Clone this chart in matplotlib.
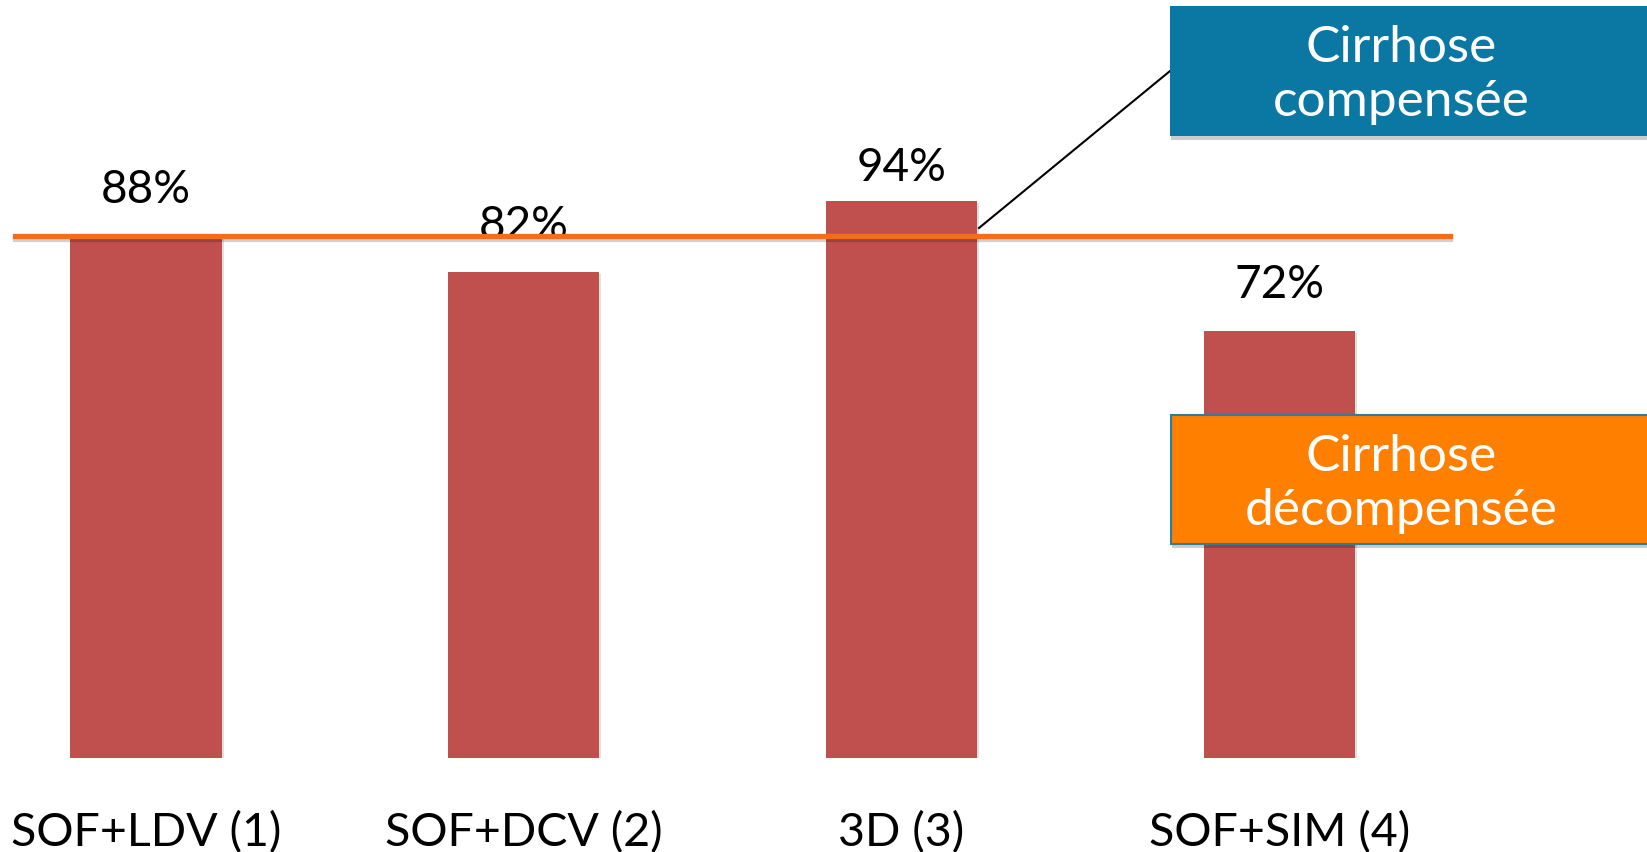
import matplotlib
matplotlib.use("Agg")
import matplotlib.pyplot as plt
import matplotlib.patheffects as pe
from matplotlib.patches import Rectangle

# Données
categories = ["SOF+LDV (1)", "SOF+DCV (2)", "3D (3)", "SOF+SIM (4)"]
values = [88, 82, 94, 72]
value_labels = ["88%", "82%", "94%", "72%"]
threshold = 88

W, H = 1647, 852
fig = plt.figure(figsize=(W / 100, H / 100), dpi=100)
fig.patch.set_facecolor("white")

# axe placé pour que 0 % tombe à y=758 px et 100 % à y=165 px
bottom_px, top_px = 758, 165
ax = fig.add_axes([0, (H - bottom_px) / H, 1, (bottom_px - top_px) / H])
step = 377.8
x0 = -146 / step
ax.set_xlim(x0, x0 + W / step)
ax.set_ylim(0, 100)
ax.axis("off")

shadow = [pe.SimplePatchShadow(offset=(1.5, -1.5), shadow_rgbFace="black", alpha=0.12),
          pe.Normal()]

x = list(range(len(categories)))
bars = ax.bar(x, values, width=0.4, color="#c0504d", zorder=2)
for b in bars:
    b.set_path_effects(shadow)

# décalage des étiquettes au-dessus des barres (points)
label_pad = [18, 18, 8, 18]
font_main = ["Lato", "DejaVu Sans"]
for xi, v, txt, pad in zip(x, values, value_labels, label_pad):
    ax.annotate(txt, (xi, v), xytext=(0, pad), textcoords="offset points",
                ha="center", va="bottom", fontsize=33, family=font_main,
                color="black", zorder=3)

for xi, cat in zip(x, categories):
    ax.text(xi, -12.6, cat, ha="center", va="center", fontsize=33.5,
            family=font_main, color="black", clip_on=False)

# ligne de seuil
ax.axhline(threshold, xmin=15 / W, xmax=1450 / W, color="#f46d1f", lw=3.8,
           zorder=4, path_effects=[pe.SimpleLineShadow(offset=(0, -2), alpha=0.18),
                                   pe.Normal()])

# encadrés à droite (coordonnées figure en pixels)
def px(xp, yp):
    return xp / W, (H - yp) / H

box_shadow = [pe.SimplePatchShadow(offset=(1, -3), shadow_rgbFace="black", alpha=0.2),
              pe.Normal()]

bx, by = px(1170, 136)
blue = Rectangle((bx, by), (W - 1170 + 10) / W, 130 / H, transform=fig.transFigure,
                 facecolor="#0a78a2", edgecolor="none", zorder=5)
blue.set_path_effects(box_shadow)
fig.patches.append(blue)
tx, ty = px(1401, 75)
fig.text(tx, ty, "Cirrhose\ncompensée", ha="center", va="center", fontsize=37,
         family=font_main, color="white", linespacing=1.2, zorder=6)

ox, oy = px(1171, 544)
orange = Rectangle((ox, oy), (W - 1171 + 10) / W, 129 / H, transform=fig.transFigure,
                   facecolor="#ff8000", edgecolor="#2a7fa0", lw=1.5, zorder=5)
orange.set_path_effects(box_shadow)
fig.patches.append(orange)
tx, ty = px(1401, 484)
fig.text(tx, ty, "Cirrhose\ndécompensée", ha="center", va="center", fontsize=37,
         family=font_main, color="white", linespacing=1.2, zorder=6)

# trait de rappel vers l'encadré bleu
(x1, y1), (x2, y2) = px(979, 228), px(1170, 71)
fig.add_artist(plt.Line2D([x1, x2], [y1, y2], transform=fig.transFigure,
                          color="black", lw=1.5, zorder=4))

fig.savefig("out.png", dpi=100, facecolor="white")
